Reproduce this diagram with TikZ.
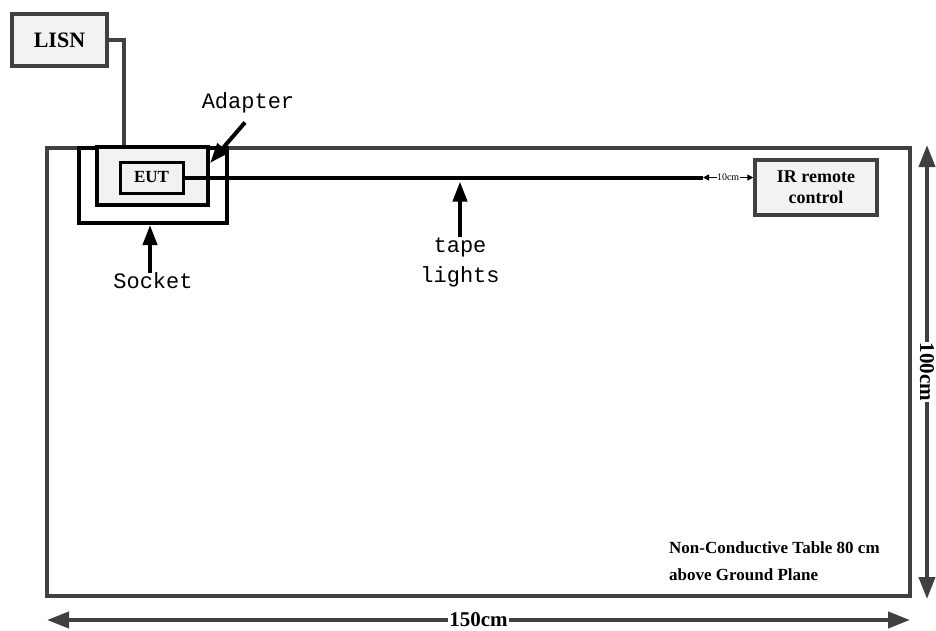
\documentclass[tikz,border=0pt]{standalone}
\usepackage{fontspec}
\setmainfont{Liberation Serif}
\newfontfamily\calloutfont{Liberation Mono}
\usetikzlibrary{arrows.meta,positioning}

\begin{document}
\begin{tikzpicture}[
        x=1pt, y=-1pt,
        tablebox/.style={draw=black!75, line width=4pt, inner sep=0pt, outer sep=0pt},
        devbox/.style={draw=black!75, line width=3.5pt, fill=black!5, align=center, inner sep=0pt, font=\bfseries\fontsize{18}{21}\selectfont},
        holder/.style={draw=black, line width=4pt, inner sep=0pt, outer sep=0pt},
        wire/.style={draw=black!75, line width=4pt},
        tape/.style={draw=black, line width=4pt},
        pointer/.style={-{Triangle[length=20pt,width=14pt]}, line width=4pt},
        dim/.style={{Triangle[length=22pt,width=16pt]}-{Triangle[length=22pt,width=16pt]}, draw=black!75, line width=4pt},
        gap/.style={{Triangle[length=6pt,width=6pt]}-{Triangle[length=6pt,width=6pt]}, line width=1.5pt},
        callout/.style={align=center, inner sep=0pt, font=\calloutfont\fontsize{22}{30}\selectfont},
        dimlabel/.style={fill=white, inner sep=1pt, font=\bfseries\fontsize{21}{21}\selectfont}
    ]
        \useasboundingbox (0,0) rectangle (936,630);

        % table and devices
        \node[tablebox, minimum width=863pt, minimum height=448pt] (table) at (478.5,372) {};
        \node[devbox, minimum width=95pt, minimum height=52pt, font=\bfseries\fontsize{22}{24}\selectfont] (lisn) at (59.5,40) {LISN};
        \coordinate (feed) at (124,148);
        \draw[wire] (lisn.east) -| (feed);
        \node[holder, minimum width=148pt, minimum height=75pt] (socket) at (153,185.5) {};
        \node[holder, fill=black!5, minimum width=111pt, minimum height=58pt] (adapter) at (152.5,176) {};
        \node[devbox, draw=black, line width=3pt, minimum width=63pt, minimum height=31pt, font=\bfseries\fontsize{17}{19}\selectfont] (eut) at (151.5,177.5) {EUT};
        \node[devbox, minimum width=122pt, minimum height=55pt] (ir) at (816,187.5) {IR remote\\control};

        % tape lights
        \coordinate (tapeend) at (703,177.5);
        \draw[tape] (eut.east) -- (tapeend);
        \draw[gap] (tapeend) -- node[fill=white, inner sep=0.5pt, font=\fontsize{10}{10}\selectfont] {10cm} (tapeend -| ir.west);

        % callouts
        \node[callout] (adapterlbl) at (248,103) {Adapter};
        \coordinate (adaptertip) at (210,163);
        \draw[pointer] ([xshift=-3pt,yshift=-9pt]adapterlbl.south) -- (adaptertip);
        \node[callout] (socketlbl) at (153,281) {Socket};
        \draw[pointer, shorten >=2pt] ([xshift=-3pt]socketlbl.north) -- ([xshift=-3pt]socketlbl.north |- socket.south);
        \node[callout] (tapelbl) at (460,262) {tape\\lights};
        \draw[pointer, shorten >=4pt] (tapelbl.north) -- (tapelbl.north |- tapeend);

        % dimensions
        \draw[dim] ([xshift=17pt,yshift=3pt]table.north east) -- node[dimlabel, rotate=-90] {100cm} ([xshift=17pt,yshift=-3pt]table.south east);
        \draw[dim] ([yshift=-24pt]table.south west) -- node[dimlabel] {150cm} ([yshift=-24pt]table.south east);
        \node[anchor=north west, align=left, inner sep=0pt, font=\bfseries\fontsize{17}{27}\selectfont] (note) at (669,541) {Non-Conductive Table 80 cm\\above Ground Plane};
    \end{tikzpicture}
\end{document}
